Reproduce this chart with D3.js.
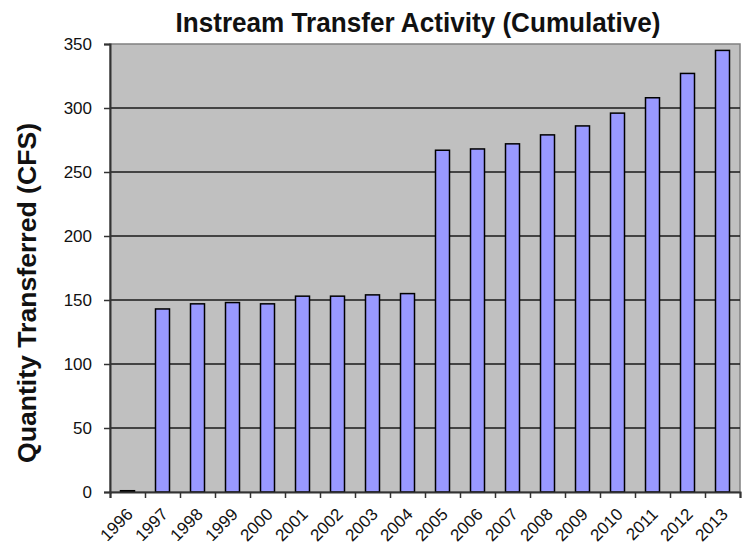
<!DOCTYPE html>
<html>
<head>
<meta charset="utf-8">
<script src="https://cdn.jsdelivr.net/npm/d3@7"></script>
<style>
  body { margin: 0; background: #fff; }
  text { font-family: "Liberation Sans", Arial, sans-serif; }
</style>
</head>
<body>
<div id="chart"></div>
<script>
const years = ["1996", "1997", "1998", "1999", "2000", "2001", "2002", "2003", "2004",
    "2005", "2006", "2007", "2008", "2009", "2010", "2011", "2012", "2013"];
const cfs = [1, 143, 147, 148, 147, 153, 153, 154, 155,
    267, 268, 272, 279, 286, 296, 308, 327, 345];
const yTicks = [0, 50, 100, 150, 200, 250, 300, 350];

const W = 753, H = 549;
const margin = { top: 44, right: 13, bottom: 57, left: 110 },
    width = W - margin.left - margin.right,
    height = H - margin.top - margin.bottom;

const svg = d3.select("#chart")
    .append("svg")
    .attr("width", W)
    .attr("height", H);

const g = svg.append("g")
    .attr("transform", `translate(${margin.left},${margin.top})`);

// scales
const x = d3.scaleBand()
    .domain(years)
    .range([0, width])
    .paddingInner(0.6)
    .paddingOuter(0.3);

const xEdge = d3.scaleLinear()
    .domain([0, years.length])
    .range([0, width]);

const y = d3.scaleLinear()
    .domain([0, 350])
    .range([height, 0]);

// plot background
g.append("rect")
    .attr("width", width)
    .attr("height", height)
    .attr("fill", "#c0c0c0")
    .attr("stroke", "#808080")
    .attr("stroke-width", 1.5);

// gridlines
g.append("g")
    .selectAll("line")
    .data(yTicks.filter(d => d > 0 && d < 350))
    .join("line")
    .attr("x1", 0)
    .attr("x2", width)
    .attr("y1", d => y(d))
    .attr("y2", d => y(d))
    .attr("stroke", "#1a1a1a")
    .attr("stroke-width", 1.3);

// bars
g.append("g")
    .selectAll("rect")
    .data(years.map((d, i) => ({ year: d, value: cfs[i] })))
    .join("rect")
    .attr("x", d => x(d.year))
    .attr("y", d => y(d.value))
    .attr("width", x.bandwidth())
    .attr("height", d => height - y(d.value))
    .attr("fill", "#9999ff")
    .attr("stroke", "#000")
    .attr("stroke-width", 1.5);

// Y axis
const yAxis = g.append("g")
    .call(d3.axisLeft(y).tickValues(yTicks).tickSize(6).tickPadding(12));
yAxis.select(".domain").attr("stroke", "#333").attr("stroke-width", 2);
yAxis.selectAll(".tick line").attr("stroke", "#333").attr("stroke-width", 1.5);
yAxis.selectAll(".tick text")
    .attr("font-size", "17px")
    .attr("fill", "#111")
    .style("font-family", "Liberation Sans, Arial, sans-serif");

// X axis (ticks on category edges)
const xAxis = g.append("g")
    .attr("transform", `translate(0, ${height})`)
    .call(d3.axisBottom(xEdge).tickValues(d3.range(years.length + 1)).tickSize(6).tickFormat(""));
xAxis.select(".domain").attr("stroke", "#333").attr("stroke-width", 2);
xAxis.selectAll(".tick line").attr("stroke", "#333").attr("stroke-width", 1.5);

// X labels, rotated
g.append("g")
    .selectAll("text")
    .data(years)
    .join("text")
    .attr("transform", d => `translate(${x(d) + x.bandwidth() / 2 - 2}, ${height + 15}) rotate(-45)`)
    .attr("text-anchor", "end")
    .attr("dy", "0.7em")
    .attr("font-size", "17px")
    .attr("fill", "#111")
    .text(d => d);

// title
svg.append("text")
    .attr("x", 418)
    .attr("y", 32)
    .attr("text-anchor", "middle")
    .attr("font-size", "27px")
    .attr("font-weight", "bold")
    .attr("fill", "#111")
    .attr("textLength", 485)
    .attr("lengthAdjust", "spacingAndGlyphs")
    .text("Instream Transfer Activity (Cumulative)");

// y label
svg.append("text")
    .attr("transform", "translate(36, 293) rotate(-90)")
    .attr("text-anchor", "middle")
    .attr("font-size", "25px")
    .attr("font-weight", "bold")
    .attr("fill", "#111")
    .attr("textLength", 340)
    .attr("lengthAdjust", "spacingAndGlyphs")
    .text("Quantity Transferred (CFS)");
</script>
</body>
</html>
